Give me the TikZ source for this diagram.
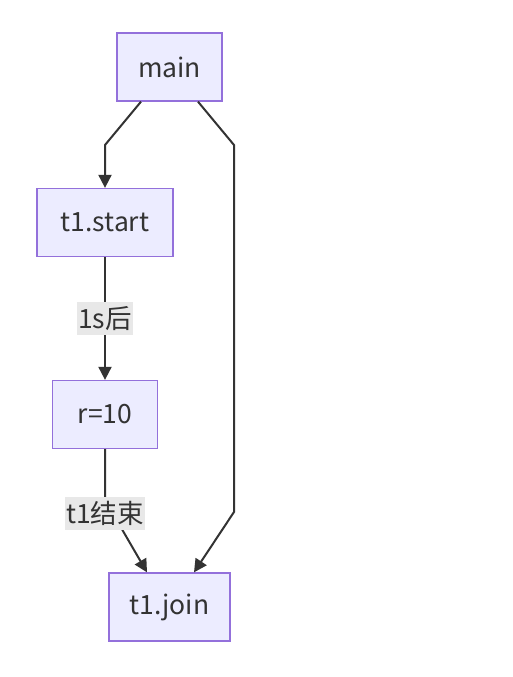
\documentclass[tikz,border=0pt]{standalone}
\usepackage{fontspec}
\setmainfont{Noto Sans CJK SC}
\usetikzlibrary{arrows.meta,calc}
\definecolor{nodefill}{HTML}{ECECFF}
\definecolor{nodeline}{HTML}{9370DB}
\definecolor{edgeline}{HTML}{333333}
\definecolor{lblbg}{HTML}{E8E8E8}
\definecolor{txt}{HTML}{333333}
\begin{document}
\begin{tikzpicture}[x=1pt,y=-1pt,
  box/.style={draw=nodeline,fill=nodefill,line width=1.3pt,minimum height=68pt,inner sep=0pt,text=txt,font=\fontsize{26.5}{30}\selectfont},
  edge/.style={draw=edgeline,line width=2pt,-{Triangle[length=13pt,width=13pt]}},
  lbl/.style={fill=lblbg,inner sep=1.5pt,text=txt,font=\fontsize{26.5}{30}\selectfont,minimum height=33pt}]
\useasboundingbox (0,0) rectangle (512,677);
\node[box,minimum width=105pt] (main) at (169.5,67) {main};
\node[box,minimum width=136pt] (start) at (105,222.5) {t1.start};
\node[box,minimum width=105pt] (r) at (105,414.5) {r=10};
\node[box,minimum width=121pt] (join) at (169.5,607) {t1.join};
\coordinate (a1) at ($(main.south)+(-28.5,0)$);
\coordinate (a2) at (105,145);
\coordinate (b1) at ($(main.south)+(28.5,0)$);
\coordinate (b2) at (234,145);
\coordinate (b3) at (234,512);
\coordinate (b4) at ($(join.north)+(24.5,0)$);
\coordinate (c1) at (105,500);
\coordinate (c2) at ($(join.north)+(-22.5,0)$);
\draw[edge] (a1) -- (a2) -- (start.north);
\draw[edge] (b1) -- (b2) -- (b3) -- (b4);
\draw[edge] (start.south) -- node[lbl] (l1) {1s后} (r.north);
\draw[edge] (r.south) -- (c1) -- (c2);
\node[lbl] (l2) at (105,513.5) {t1结束};
\end{tikzpicture}
\end{document}
